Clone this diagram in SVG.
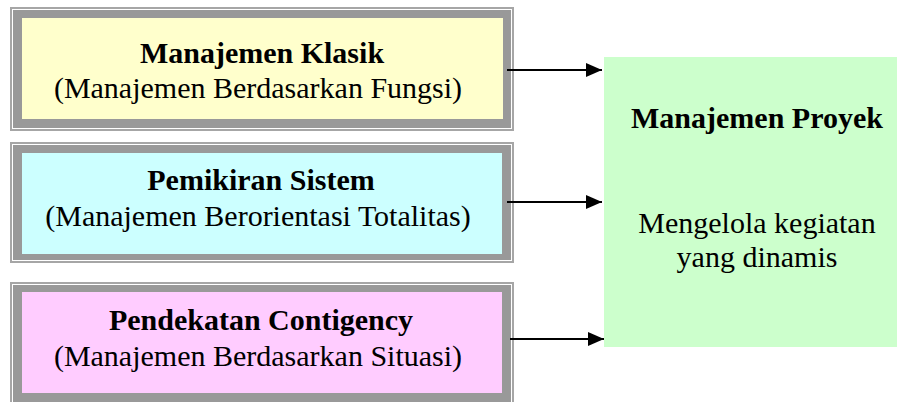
<svg xmlns="http://www.w3.org/2000/svg" width="897" height="402" viewBox="0 0 897 402">
<style>
.frame{fill:#a6a6a6}
.gap{fill:#ffffff}
.band{fill:#999999}
.t{font-family:"Liberation Serif","Times New Roman",serif;font-size:30px;fill:#000;text-anchor:middle}
.b{font-weight:bold}
.conn{stroke:#000;stroke-width:2;fill:none}
</style>
<defs>
<marker id="ah" markerUnits="userSpaceOnUse" markerWidth="16" markerHeight="16" viewBox="0 0 16 16" refX="16" refY="8" orient="auto">
<path d="M0,1 L16,8 L0,15 Z" fill="#000"/>
</marker>
</defs>
<rect width="897" height="402" fill="#ffffff"/>
<g id="node-klasik">
<rect class="frame" x="10" y="7" width="504" height="124"/>
<rect class="gap" x="12" y="9" width="500" height="120"/>
<rect class="band" x="13" y="10" width="498" height="118"/>
<rect x="22" y="18" width="481" height="101" fill="#ffffcc"/>
<text class="t b" x="262" y="63">Manajemen Klasik</text>
<text class="t" x="258" y="98">(Manajemen Berdasarkan Fungsi)</text>
</g>
<g id="node-sistem">
<rect class="frame" x="10" y="142" width="504" height="121"/>
<rect class="gap" x="12" y="144" width="500" height="117"/>
<rect class="band" x="13" y="145" width="498" height="115"/>
<rect x="22" y="153" width="480" height="101" fill="#ccffff"/>
<text class="t b" x="261" y="190">Pemikiran Sistem</text>
<text class="t" x="258" y="226">(Manajemen Berorientasi Totalitas)</text>
</g>
<g id="node-contigency">
<rect class="frame" x="10" y="282" width="504" height="124"/>
<rect class="gap" x="12" y="284" width="500" height="120"/>
<rect class="band" x="13" y="285" width="498" height="118"/>
<rect x="22" y="292" width="480" height="101" fill="#ffccff"/>
<text class="t b" x="261" y="330">Pendekatan Contigency</text>
<text class="t" x="258" y="366">(Manajemen Berdasarkan Situasi)</text>
</g>
<g id="node-proyek">
<rect x="604" y="57" width="300" height="290" fill="#ccffcc"/>
<text class="t b" x="757" y="128">Manajemen Proyek</text>
<text class="t" x="757" y="233">Mengelola kegiatan</text>
<text class="t" x="757" y="267">yang dinamis</text>
</g>
<g id="connectors">
<line class="conn" x1="507" y1="70" x2="602" y2="70" marker-end="url(#ah)"/>
<line class="conn" x1="507" y1="202" x2="602" y2="202" marker-end="url(#ah)"/>
<line class="conn" x1="510" y1="339" x2="604" y2="339" marker-end="url(#ah)"/>
</g>
</svg>
